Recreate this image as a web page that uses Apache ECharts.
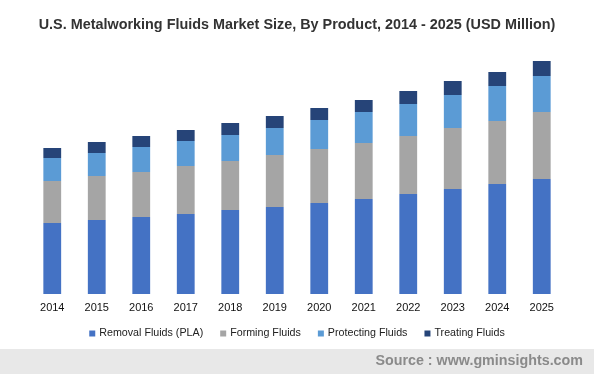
<!DOCTYPE html>
<html><head><meta charset="utf-8">
<script src="https://cdn.jsdelivr.net/npm/echarts@6/dist/echarts.min.js"></script>
<style>html,body{margin:0;padding:0;background:#fff}#c{width:594px;height:374px}</style>
</head><body><div id="c"></div>
<script>
const years = ['2014','2015','2016','2017','2018','2019','2020','2021','2022','2023','2024','2025'];
const removal = [710,740,770,800,840,870,910,950,1000,1050,1100,1150];
const forming = [420,440,450,480,490,520,540,560,580,610,630,670];
const protecting = [230,230,250,250,260,270,290,310,320,330,350,360];
const treating = [100,110,110,110,120,120,120,120,130,140,140,150];
const seriesNames = ['Removal Fluids (PLA)','Forming Fluids','Protecting Fluids','Treating Fluids'];
const colors = ['#4472C4','#A5A5A5','#5B9BD5','#264478'];
const chart = echarts.init(document.getElementById('c'));
const mk = (name, data, i) => ({name, type:'bar', stack:'t', data, barWidth:'40%', itemStyle:{color:colors[i]}});
chart.setOption({
  animation:false,
  title:{text:'U.S. Metalworking Fluids Market Size, By Product, 2014 - 2025 (USD Million)', left:'center', top:13,
    textStyle:{fontFamily:'Liberation Sans', fontWeight:'bold', fontSize:14.4, color:'#333'}},
  legend:{top:323, left:'center', itemWidth:6, itemHeight:6, itemGap:17, icon:'rect',
    textStyle:{fontFamily:'Liberation Sans', fontSize:10.7, color:'#222', padding:[0,0,0,-1]}, data:seriesNames},
  grid:{left:30, right:30, top:40, bottom:80},
  xAxis:{type:'category', data:years, axisTick:{show:false}, axisLine:{show:false},
    axisLabel:{fontFamily:'Liberation Sans', fontSize:11, color:'#111', margin:8}},
  yAxis:{type:'value', min:0, max:2540, show:false, splitLine:{show:false}},
  graphic:[
    {type:'rect', left:0, top:349, shape:{width:594, height:25}, style:{fill:'#e8e8e8'}, silent:true},
    {type:'text', right:11, top:354, style:{text:'Source : www.gminsights.com', fontFamily:'Liberation Sans', fontWeight:'bold', fontSize:14.3, fill:'#8a8a8a'}}
  ],
  series:[mk(seriesNames[0],removal,0),mk(seriesNames[1],forming,1),mk(seriesNames[2],protecting,2),mk(seriesNames[3],treating,3)]
});
</script></body></html>
